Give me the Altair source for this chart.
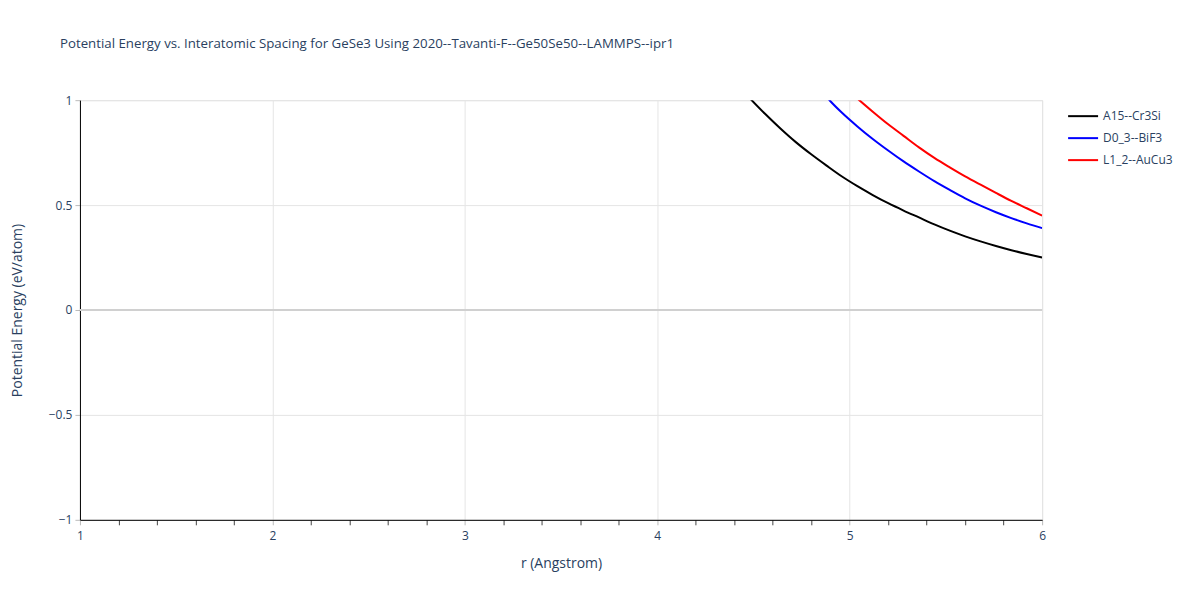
import altair as alt
import pandas as pd

series_names = ["A15--Cr3Si", "D0_3--BiF3", "L1_2--AuCu3"]
series_colors = ["black", "blue", "red"]

r_a15 = [4.40, 4.48, 4.56, 4.64, 4.72, 4.80, 4.88, 4.96, 5.04, 5.12, 5.20, 5.28,
         5.36, 5.44, 5.52, 5.60, 5.68, 5.76, 5.84, 5.92, 6.00]
e_a15 = [1.09, 1.01, 0.935, 0.865, 0.80, 0.742, 0.688, 0.636, 0.59, 0.548, 0.509, 0.474,
         0.441, 0.408, 0.378, 0.351, 0.327, 0.305, 0.285, 0.267, 0.25]

r_d03 = [4.84, 4.90, 4.96, 5.04, 5.12, 5.20, 5.28, 5.36, 5.44, 5.52, 5.60, 5.68,
         5.76, 5.84, 5.92, 6.00]
e_d03 = [1.06, 0.995, 0.94, 0.875, 0.815, 0.76, 0.708, 0.66, 0.614, 0.572, 0.532, 0.497,
         0.466, 0.438, 0.413, 0.39]

r_l12 = [5.00, 5.05, 5.12, 5.20, 5.28, 5.36, 5.44, 5.52, 5.60, 5.68, 5.76, 5.84,
         5.92, 6.00]
e_l12 = [1.04, 1.00, 0.945, 0.885, 0.83, 0.775, 0.725, 0.68, 0.637, 0.597, 0.558, 0.52,
         0.485, 0.45]

x_ticks = [1, 1.2, 1.4, 1.6, 1.8, 2, 2.2, 2.4, 2.6, 2.8, 3, 3.2, 3.4, 3.6, 3.8,
           4, 4.2, 4.4, 4.6, 4.8, 5, 5.2, 5.4, 5.6, 5.8, 6]
y_ticks = [-1, -0.5, 0, 0.5, 1]

rows = []
for name, rs, es in zip(series_names, [r_a15, r_d03, r_l12], [e_a15, e_d03, e_l12]):
    for r, e in zip(rs, es):
        rows.append({"r": r, "E": e, "series": name})
df = pd.DataFrame(rows)

FONT = "Open Sans"
TXT = "#2a3f5f"
major = "abs(datum.value - round(datum.value)) < 0.001"

x_enc = alt.X(
    "r:Q",
    scale=alt.Scale(domain=[1, 6], nice=False, zero=False),
    axis=alt.Axis(
        title="r (Angstrom)",
        values=x_ticks,
        format="~g",
        labelExpr=f"{major} ? datum.label : ''",
        labelFlush=False,
        gridOpacity={"condition": {"test": major, "value": 1}, "value": 0},
        tickColor={"condition": {"test": major, "value": "#bbbbbb"}, "value": "#444444"},
        tickSize=5,
        gridColor="#e5e5e5",
        domainColor="black",
        labelColor=TXT, labelFont=FONT, labelFontSize=12, labelPadding=6,
        titleColor=TXT, titleFont=FONT, titleFontSize=14, titleFontWeight="normal",
        titlePadding=15,
    ),
)
y_enc = alt.Y(
    "E:Q",
    scale=alt.Scale(domain=[-1, 1], nice=False),
    axis=alt.Axis(
        title="Potential Energy (eV/atom)",
        values=y_ticks,
        format=".1~f",
        labelFlush=False,
        gridColor="#e5e5e5",
        tickColor="#bbbbbb",
        tickSize=5,
        domainColor="black",
        labelColor=TXT, labelFont=FONT, labelFontSize=12, labelPadding=3,
        titleColor=TXT, titleFont=FONT, titleFontSize=14, titleFontWeight="normal",
        titlePadding=24,
    ),
)

zero_df = pd.DataFrame({"E": [0]})
zero = alt.Chart(zero_df).mark_rule(color="#d0d0d0", strokeWidth=2).encode(
    y=alt.Y("E:Q", scale=alt.Scale(domain=[-1, 1], nice=False))
)

lines = alt.Chart(df).mark_line(strokeWidth=2, clip=True, interpolate="monotone").encode(
    x=x_enc,
    y=y_enc,
    color=alt.Color(
        "series:N",
        scale=alt.Scale(domain=series_names, range=series_colors),
        legend=alt.Legend(
            title=None, orient="none", legendX=988, legendY=0,
            symbolType="stroke", symbolSize=900, symbolStrokeWidth=2,
            labelColor=TXT, labelFont=FONT, labelFontSize=12, rowPadding=-11,
            labelOffset=4,
        ),
    ),
    order="r:Q",
)

chart = alt.layer(lines, zero).properties(
    width=963,
    height=420,
    title=alt.TitleParams(
        "Potential Energy vs. Interatomic Spacing for GeSe3 Using 2020--Tavanti-F--Ge50Se50--LAMMPS--ipr1",
        anchor="start", frame="group", dx=-20, offset=44,
        font=FONT, fontSize=13.3, fontWeight="normal", color=TXT,
    ),
    autosize=alt.AutoSizeParams(type="none"),
    padding={"left": 72, "top": 92, "right": 150, "bottom": 70},
).configure_view(stroke=None).configure(background="white")

chart.save("out.html", embed_options={"renderer": "svg", "actions": False})
